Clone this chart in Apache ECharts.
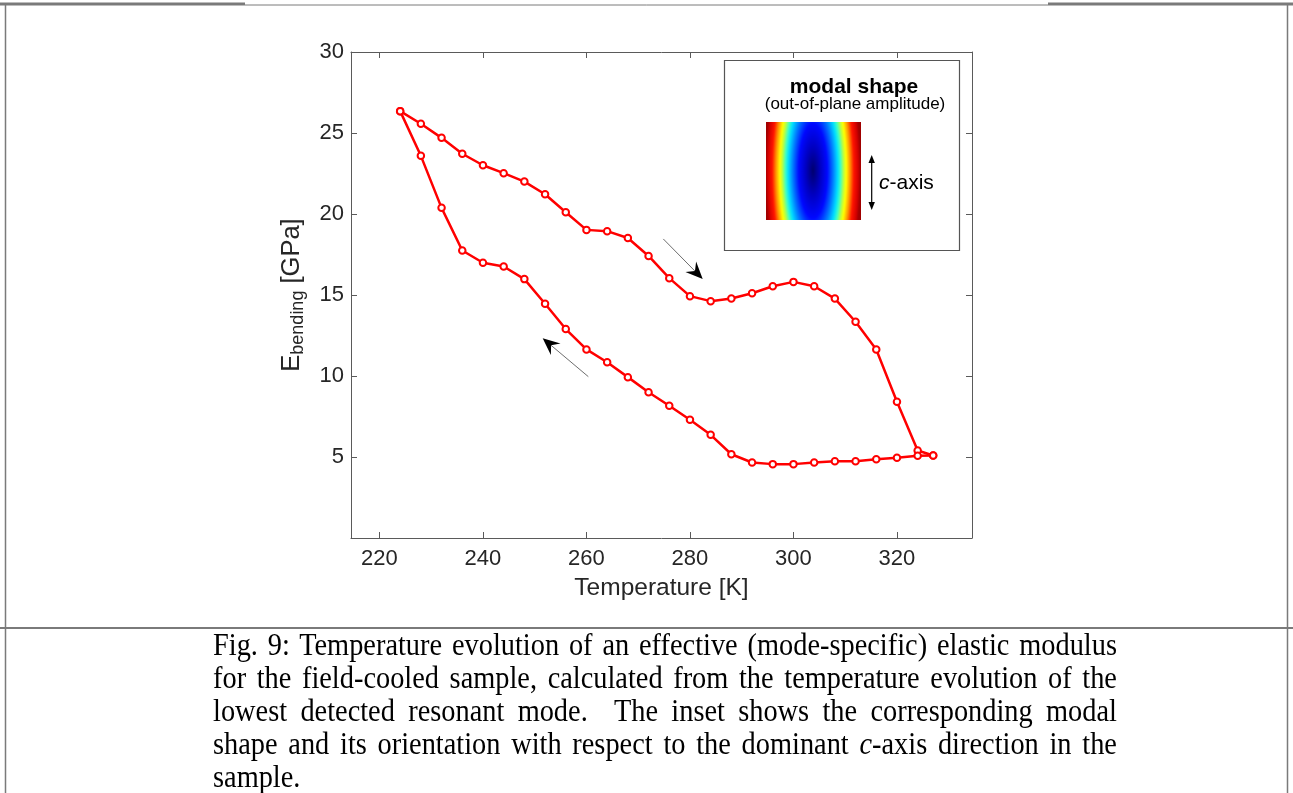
<!DOCTYPE html>
<html>
<head>
<meta charset="utf-8">
<title>Fig. 9 – effective elastic modulus vs temperature</title>
<script src="https://cdn.jsdelivr.net/npm/echarts@6/dist/echarts.min.js"></script>
<style>
  html, body { margin: 0; padding: 0; background: #fff; }
  #page { position: relative; width: 1293px; height: 793px; overflow: hidden; background: #fff; }
  #chart { position: absolute; left: 0; top: 0; width: 1293px; height: 793px; }
  #caption {
    position: absolute; left: 213px; top: 629px; width: 972px;
    transform: scaleX(0.93); transform-origin: 0 0;
    font-family: 'Liberation Serif', 'Times New Roman', serif;
    font-size: 30.5px; line-height: 33px; color: #000;
  }
  #caption div { text-align: justify; text-align-last: justify; white-space: nowrap; }
  #caption div.last { text-align-last: left; }
</style>
</head>
<body>
<div id="page">
  <div id="chart"></div>
  <div id="caption">
    <div>Fig. 9: Temperature evolution of an effective (mode-specific) elastic modulus</div>
    <div>for the field-cooled sample, calculated from the temperature evolution of the</div>
    <div>lowest detected resonant mode.&nbsp; The inset shows the corresponding modal</div>
    <div>shape and its orientation with respect to the dominant <i>c</i>-axis direction in the</div>
    <div class="last">sample.</div>
  </div>
</div>
<script>
// Heating branch (upper curve), temperature in K and modulus in GPa
const heatingT = [224, 228, 232, 236, 240, 244, 248, 252, 256, 260, 264, 268, 272, 276,
                  280, 284, 288, 292, 296, 300, 304, 308, 312, 316, 320, 324, 327];
const heatingE = [26.35, 25.57, 24.70, 23.72, 23.01, 22.52, 22.00, 21.22, 20.11, 19.02, 18.94, 18.52, 17.41, 16.04,
                  14.93, 14.62, 14.78, 15.11, 15.54, 15.81, 15.54, 14.78, 13.35, 11.64, 8.41, 5.40, 5.09];

// Return branch (lower curve)
const coolingT = [327, 324, 320, 316, 312, 308, 304, 300, 296, 292, 288, 284, 280, 276,
                  272, 268, 264, 260, 256, 252, 248, 244, 240, 236, 232, 228, 224];
const coolingE = [5.09, 5.07, 4.95, 4.86, 4.74, 4.74, 4.66, 4.56, 4.56, 4.66, 5.17, 6.37, 7.30, 8.16,
                  9.00, 9.93, 10.85, 11.64, 12.90, 14.46, 15.98, 16.76, 16.99, 17.75, 20.38, 23.59, 26.35];

// Tick values
const xTicks = [220, 240, 260, 280, 300, 320];
const yTicks = [5, 10, 15, 20, 25, 30];

// Direction arrows, given in data units [T, E]: tail then tip
const arrowHeating = [[274.85, 18.46], [282.46, 15.99]];
const arrowCooling = [[260.36, 9.96], [251.54, 12.33]];

const SANS = "'Liberation Sans', Arial, Helvetica, sans-serif";
const AXIS_GRAY = '#5a5a5a';
const TEXT_DARK = '#262626';
const RED = '#ff0000';

const pairs = (xs, ys) => xs.map((x, i) => [x, ys[i]]);

const chart = echarts.init(document.getElementById('chart'), null, { renderer: 'canvas' });

const tickStyle = { inside: true, length: 6, lineStyle: { color: AXIS_GRAY, width: 1 } };
const lineStyleAxis = { show: true, onZero: false, lineStyle: { color: AXIS_GRAY, width: 1 } };

const seriesStyle = {
  type: 'line',
  symbol: 'circle',
  symbolSize: 6.5,
  showSymbol: true,
  itemStyle: { color: '#fff', borderColor: RED, borderWidth: 2 },
  lineStyle: { color: RED, width: 2.5 },
  emphasis: { disabled: true },
  silent: true,
  animation: false
};

chart.setOption({
  backgroundColor: '#fff',
  animation: false,
  grid: { left: 351, top: 52, width: 621, height: 486, containLabel: false },
  xAxis: [
    {
      type: 'value', position: 'bottom', min: 214.5, max: 334.5,
      axisLine: lineStyleAxis,
      axisTick: Object.assign({ customValues: xTicks }, tickStyle),
      axisLabel: { customValues: xTicks, fontSize: 22, color: TEXT_DARK, fontFamily: SANS, margin: 10 },
      splitLine: { show: false },
      name: 'Temperature [K]', nameLocation: 'middle', nameGap: 38,
      nameTextStyle: { fontSize: 24.5, color: TEXT_DARK, fontFamily: SANS }
    },
    {
      type: 'value', position: 'top', min: 214.5, max: 334.5,
      axisLine: lineStyleAxis,
      axisTick: Object.assign({ customValues: xTicks }, tickStyle),
      axisLabel: { show: false }, splitLine: { show: false }
    }
  ],
  yAxis: [
    {
      type: 'value', position: 'left', min: 0, max: 30, interval: 5,
      axisLine: lineStyleAxis,
      axisTick: Object.assign({ customValues: yTicks }, tickStyle),
      axisLabel: { customValues: yTicks, fontSize: 22, color: TEXT_DARK, fontFamily: SANS, margin: 7 },
      splitLine: { show: false },
      name: '{e|E}{s|bending}{u| [GPa]}', nameLocation: 'middle', nameGap: 44, nameRotate: 90,
      nameTextStyle: {
        color: TEXT_DARK, fontFamily: SANS,
        rich: {
          e: { fontSize: 25.5, fontFamily: SANS, color: TEXT_DARK, verticalAlign: 'bottom', padding: [0, 0, 2, 0] },
          s: { fontSize: 18, fontFamily: SANS, color: TEXT_DARK, verticalAlign: 'bottom' },
          u: { fontSize: 25.5, fontFamily: SANS, color: TEXT_DARK, verticalAlign: 'bottom', padding: [0, 0, 2, 0] }
        }
      }
    },
    {
      type: 'value', position: 'right', min: 0, max: 30, interval: 5,
      axisLine: lineStyleAxis,
      axisTick: Object.assign({ customValues: yTicks }, tickStyle),
      axisLabel: { show: false }, splitLine: { show: false }
    }
  ],
  series: [
    Object.assign({ name: 'heating', data: pairs(heatingT, heatingE) }, seriesStyle),
    Object.assign({ name: 'cooling', data: pairs(coolingT, coolingE) }, seriesStyle)
  ]
});

// Jet-coloured picture of the out-of-plane mode amplitude
function modalShapeCanvas(w, h) {
  const c = document.createElement('canvas');
  c.width = w; c.height = h;
  const ctx = c.getContext('2d');
  ctx.fillStyle = '#a00000';
  ctx.fillRect(0, 0, w, h);
  const k = 3.3;
  ctx.save();
  ctx.translate(w / 2, h / 2);
  ctx.scale(1, k);
  const g = ctx.createRadialGradient(0, 0, 0, 0, 0, w / 2);
  [[0, '#00006e'], [0.15, '#0000c0'], [0.3, '#0008ff'], [0.42, '#0078ff'], [0.52, '#00dcff'],
   [0.58, '#3cffc8'], [0.65, '#c0ff3c'], [0.7, '#ffff00'], [0.78, '#ff9400'], [0.86, '#ff1400'],
   [0.95, '#d40000'], [1, '#a00000']].forEach(s => g.addColorStop(s[0], s[1]));
  ctx.fillStyle = g;
  ctx.fillRect(-w / 2, -h / (2 * k), w, h / k);
  ctx.restore();
  return c;
}

function arrowGraphics(tailData, tipData) {
  const tail = chart.convertToPixel({ gridIndex: 0 }, tailData);
  const tip = chart.convertToPixel({ gridIndex: 0 }, tipData);
  const dx = tip[0] - tail[0], dy = tip[1] - tail[1];
  const len = Math.hypot(dx, dy);
  const ux = dx / len, uy = dy / len, nx = -uy, ny = ux;
  const L = 17, W = 7.5, N = 11;
  const notch = [tip[0] - N * ux, tip[1] - N * uy];
  return [
    { type: 'line', z: 50, silent: true,
      shape: { x1: tail[0], y1: tail[1], x2: notch[0], y2: notch[1] },
      style: { stroke: '#6e6e6e', lineWidth: 1 } },
    { type: 'polygon', z: 51, silent: true,
      shape: { points: [
        tip,
        [tip[0] - L * ux + W * nx, tip[1] - L * uy + W * ny],
        notch,
        [tip[0] - L * ux - W * nx, tip[1] - L * uy - W * ny]
      ] },
      style: { fill: '#000' } }
  ];
}

const FRAME = '#7a7a7a';
const inset = { x: 724, y: 60, w: 235, h: 190 };
const img = { x: 765.5, y: 122, w: 95, h: 98 };
const axisX = 871.7, axisTop = 155, axisBottom = 210;

const graphics = [
  // page frame
  { type: 'line', silent: true, shape: { x1: 0, y1: 4, x2: 245, y2: 4 }, style: { stroke: FRAME, lineWidth: 3 } },
  { type: 'line', silent: true, shape: { x1: 1048, y1: 4, x2: 1293, y2: 4 }, style: { stroke: FRAME, lineWidth: 3 } },
  { type: 'line', silent: true, shape: { x1: 245, y1: 5, x2: 1048, y2: 5 }, style: { stroke: FRAME, lineWidth: 1 } },
  { type: 'line', silent: true, shape: { x1: 5.5, y1: 4, x2: 5.5, y2: 793 }, style: { stroke: FRAME, lineWidth: 1.5 } },
  { type: 'line', silent: true, shape: { x1: 1287.5, y1: 4, x2: 1287.5, y2: 793 }, style: { stroke: FRAME, lineWidth: 1.5 } },
  { type: 'line', silent: true, shape: { x1: 0, y1: 628, x2: 1293, y2: 628 }, style: { stroke: FRAME, lineWidth: 2 } },

  // inset panel
  { type: 'rect', z: 60, silent: true,
    shape: { x: inset.x + 0.5, y: inset.y + 0.5, width: inset.w, height: inset.h },
    style: { fill: '#fff', stroke: '#555', lineWidth: 1.2 } },
  { type: 'text', z: 61, silent: true,
    style: { text: 'modal shape', x: 854, y: 87, align: 'center', verticalAlign: 'middle',
             fontSize: 21, fontWeight: 'bold', fontFamily: SANS, fill: '#000' } },
  { type: 'text', z: 61, silent: true,
    style: { text: '(out-of-plane amplitude)', x: 855, y: 104, align: 'center', verticalAlign: 'middle',
             fontSize: 17, fontFamily: SANS, fill: '#000' } },
  { type: 'image', z: 61, silent: true,
    style: { image: modalShapeCanvas(img.w, img.h), x: img.x, y: img.y, width: img.w, height: img.h } },
  { type: 'line', z: 61, silent: true,
    shape: { x1: axisX, y1: axisTop + 6, x2: axisX, y2: axisBottom - 6 },
    style: { stroke: '#000', lineWidth: 1.2 } },
  { type: 'polygon', z: 61, silent: true,
    shape: { points: [[axisX, axisTop], [axisX - 3.2, axisTop + 8], [axisX + 3.2, axisTop + 8]] },
    style: { fill: '#000' } },
  { type: 'polygon', z: 61, silent: true,
    shape: { points: [[axisX, axisBottom], [axisX - 3.2, axisBottom - 8], [axisX + 3.2, axisBottom - 8]] },
    style: { fill: '#000' } },
  { type: 'text', z: 61, silent: true,
    style: { text: '{i|c}-axis', x: 879, y: 183, align: 'left', verticalAlign: 'middle',
             fontSize: 21, fontFamily: SANS, fill: '#000',
             rich: { i: { fontStyle: 'italic', fontSize: 21, fontFamily: SANS, fill: '#000' } } } }
].concat(arrowGraphics(arrowHeating[0], arrowHeating[1]))
 .concat(arrowGraphics(arrowCooling[0], arrowCooling[1]));

chart.setOption({ graphic: graphics });
</script>
</body>
</html>
